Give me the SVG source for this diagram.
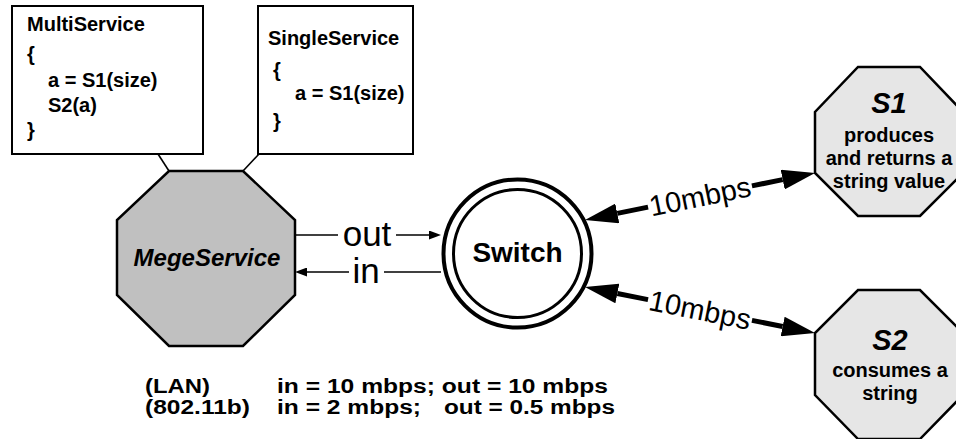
<svg xmlns="http://www.w3.org/2000/svg" width="956" height="439" viewBox="0 0 956 439">
<style>
text{font-family:"Liberation Sans",Arial,sans-serif;fill:#000}
.b{font-weight:bold;font-size:20px}
.bi{font-weight:bold;font-style:italic}
.box{fill:#fff;stroke:#000;stroke-width:2}
.oct{stroke:#000;stroke-width:2.5}
.thin{stroke:#000;stroke-width:1.6;fill:none}
.thick{stroke:#000;stroke-width:5;fill:none}
.lbl{font-size:29px}
</style>
<defs>
<marker id="big" markerUnits="userSpaceOnUse" viewBox="0 0 33 20" refX="0" refY="10" markerWidth="33" markerHeight="20" orient="auto"><path d="M0,0 L33,10 L0,20 z" fill="#000"/></marker>
<marker id="small" markerUnits="userSpaceOnUse" viewBox="0 0 12 9" refX="0" refY="4.5" markerWidth="12" markerHeight="9" orient="auto"><path d="M0,0 L12,4.5 L0,9 z" fill="#000"/></marker>
</defs>
<rect width="956" height="439" fill="#fff"/>

<g id="connectors">
<line class="thin" x1="158" y1="154" x2="169" y2="171"/>
<line class="thin" x1="259" y1="154" x2="243" y2="171"/>
<line class="thin" x1="295" y1="235" x2="338" y2="235"/>
<line class="thin" x1="396" y1="235" x2="429" y2="235" marker-end="url(#small)"/>
<text x="367" y="246" font-size="35" text-anchor="middle">out</text>
<line class="thin" x1="441" y1="272" x2="384" y2="272"/>
<line class="thin" x1="349" y1="272" x2="307" y2="272" marker-end="url(#small)"/>
<text x="366" y="283" font-size="35" text-anchor="middle">in</text>
<g transform="translate(700,196.5) rotate(-11.55)">
<line class="thick" x1="-53" y1="0" x2="-84.4" y2="0" marker-end="url(#big)"/>
<line class="thick" x1="53" y1="0" x2="84.4" y2="0" marker-end="url(#big)"/>
<text class="lbl" x="0" y="10" text-anchor="middle">10mbps</text>
</g>
<g transform="translate(700,310) rotate(11.31)">
<line class="thick" x1="-53" y1="0" x2="-84.3" y2="0" marker-end="url(#big)"/>
<line class="thick" x1="53" y1="0" x2="84.3" y2="0" marker-end="url(#big)"/>
<text class="lbl" x="0" y="10" text-anchor="middle">10mbps</text>
</g>
</g>

<g id="multiservice">
<rect class="box" x="12" y="6" width="191" height="148"/>
<text class="b" x="27" y="31">MultiService</text>
<text class="b" x="27" y="61">{</text>
<text class="b" x="48" y="87">a = S1(size)</text>
<text class="b" x="48" y="112">S2(a)</text>
<text class="b" x="27" y="137">}</text>
</g>

<g id="singleservice">
<rect class="box" x="258" y="6" width="155" height="148"/>
<text class="b" x="268" y="45">SingleService</text>
<text class="b" x="273" y="77">{</text>
<text class="b" x="295" y="100">a = S1(size)</text>
<text class="b" x="273" y="128">}</text>
</g>

<g id="megeservice">
<polygon class="oct" fill="#c0c0c0" points="169,171 243,171 295,220 295,295 243,346 169,346 117,295 117,220"/>
<text class="bi" x="207" y="266" font-size="24" text-anchor="middle">MegeService</text>
</g>

<g id="switch">
<circle cx="517.5" cy="253.5" r="74" fill="#fff" stroke="#000" stroke-width="4"/>
<circle cx="517.5" cy="253.5" r="64" fill="none" stroke="#000" stroke-width="3"/>
<text x="517.5" y="262" font-size="28" font-weight="bold" text-anchor="middle">Switch</text>
</g>

<g id="s1">
<polygon class="oct" fill="#e6e6e6" points="858,67 920,67 963,112 963,173 920,216 858,216 815,173 815,112"/>
<text class="bi" x="889" y="113" font-size="29" text-anchor="middle">S1</text>
<text class="b" x="889" y="142" text-anchor="middle">produces</text>
<text class="b" x="889" y="165" text-anchor="middle">and returns a</text>
<text class="b" x="889" y="188" text-anchor="middle">string value</text>
</g>

<g id="s2">
<polygon class="oct" fill="#e6e6e6" points="858,290 920,290 963,333 963,395 920,439 858,439 815,395 815,333"/>
<text class="bi" x="890" y="350" font-size="29" text-anchor="middle">S2</text>
<text class="b" x="890" y="377" text-anchor="middle">consumes a</text>
<text class="b" x="890" y="400" text-anchor="middle">string</text>
</g>

<g id="notes">
<text class="b" x="145" y="393" textLength="65" lengthAdjust="spacingAndGlyphs">(LAN)</text>
<text class="b" x="277" y="393" textLength="331" lengthAdjust="spacingAndGlyphs">in = 10 mbps; out = 10 mbps</text>
<text class="b" x="145" y="414" textLength="105" lengthAdjust="spacingAndGlyphs">(802.11b)</text>
<text class="b" x="277" y="414" textLength="144" lengthAdjust="spacingAndGlyphs">in = 2 mbps;</text>
<text class="b" x="444" y="414" textLength="171" lengthAdjust="spacingAndGlyphs">out = 0.5 mbps</text>
</g>
</svg>
